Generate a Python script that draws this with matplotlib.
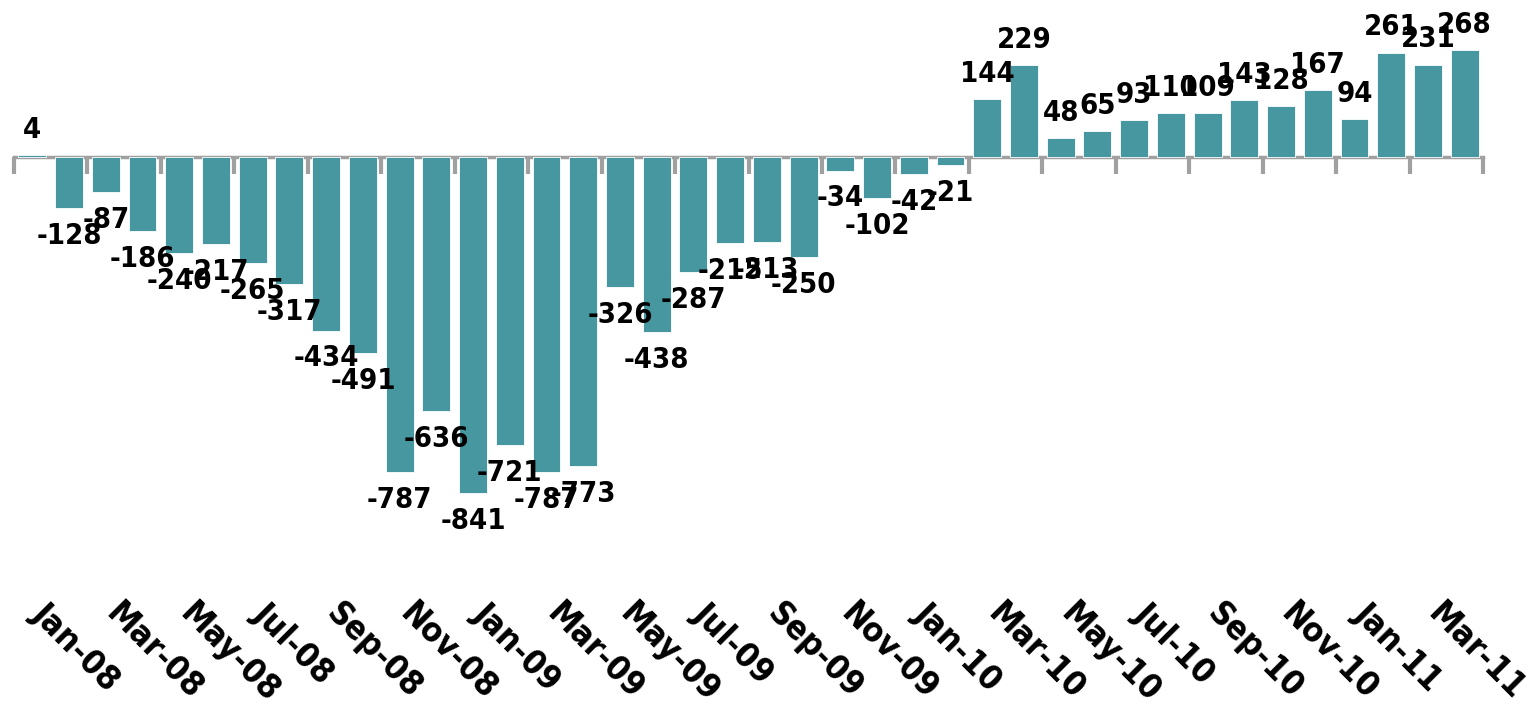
import numpy as np
import matplotlib.pyplot as plt
from matplotlib import transforms

months = ['Jan-08', 'Feb-08', 'Mar-08', 'Apr-08', 'May-08', 'Jun-08', 'Jul-08', 'Aug-08',
          'Sep-08', 'Oct-08', 'Nov-08', 'Dec-08', 'Jan-09', 'Feb-09', 'Mar-09', 'Apr-09',
          'May-09', 'Jun-09', 'Jul-09', 'Aug-09', 'Sep-09', 'Oct-09', 'Nov-09', 'Dec-09',
          'Jan-10', 'Feb-10', 'Mar-10', 'Apr-10', 'May-10', 'Jun-10', 'Jul-10', 'Aug-10',
          'Sep-10', 'Oct-10', 'Nov-10', 'Dec-10', 'Jan-11', 'Feb-11', 'Mar-11', 'Apr-11']
values = [4, -128, -87, -186, -240, -217, -265, -317, -434, -491, -787, -636, -841, -721,
          -787, -773, -326, -438, -287, -215, -213, -250, -34, -102, -42, -21, 144, 229,
          48, 65, 93, 110, 109, 143, 128, 167, 94, 261, 231, 268]
tick_labels = months[::2]

BAR = '#4797A0'
AXIS = '#A0A0A0'
FONT = dict(family='DejaVu Sans', stretch='condensed', weight='bold')

fig = plt.figure(figsize=(15.32, 7.10), dpi=100)
ax = fig.add_axes([14 / 1532, 120 / 710, (1483 - 14) / 1532, 590 / 710])

x = np.arange(len(values))
ax.bar(x, values, width=0.76, color=BAR, edgecolor='white', linewidth=0.6, zorder=2)

ax.set_xlim(-0.5, len(values) - 0.5)
ax.set_ylim(-1082.5, 392.5)

for s in ax.spines.values():
    s.set_visible(False)
ax.set_yticks([])

ax.set_xticks(x[::2])
ax.set_xticklabels(tick_labels, rotation=-45, ha='left', va='top',
                   rotation_mode='anchor', fontsize=24.5, **FONT)
ax.tick_params(axis='x', length=0, pad=5)
off = transforms.ScaledTranslation(17 / 100, 0, fig.dpi_scale_trans)
for lbl in ax.get_xticklabels():
    lbl.set_transform(lbl.get_transform() + off)

sec = ax.secondary_xaxis(0, transform=ax.transData)
sec.set_xticks(np.arange(-0.5, len(values), 2))
sec.tick_params(axis='x', direction='out', length=12, width=3, color=AXIS,
                labelbottom=False, labeltop=False)
for name, s in sec.spines.items():
    s.set_visible(name == 'bottom')
sec.spines['bottom'].set_color(AXIS)
sec.spines['bottom'].set_linewidth(2.5)

for xi, v in zip(x, values):
    if v >= 0:
        ax.annotate(str(v), (xi, v), xytext=(0, 8), textcoords='offset points',
                    ha='center', va='bottom', fontsize=21, color='black', **FONT)
    else:
        ax.annotate(str(v), (xi, v), xytext=(0, -10), textcoords='offset points',
                    ha='center', va='top', fontsize=21, color='black', **FONT)

fig.savefig('out.png', dpi=100)
